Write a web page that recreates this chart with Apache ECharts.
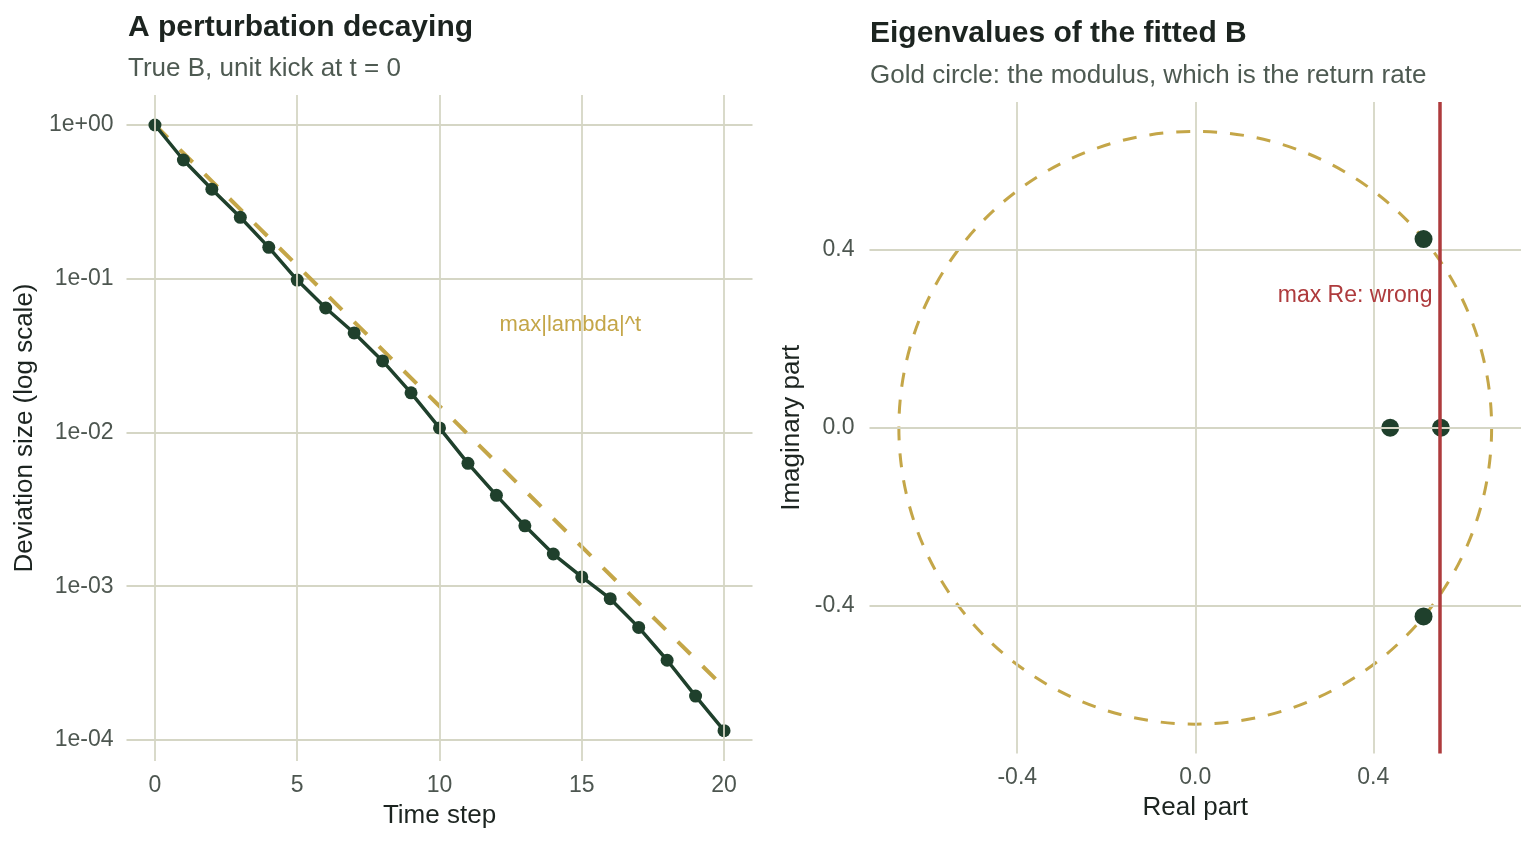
<!DOCTYPE html>
<html>
<head>
<meta charset="utf-8">
<script src="https://cdn.jsdelivr.net/npm/echarts@6/dist/echarts.min.js"></script>
<style>
html,body{margin:0;padding:0;background:#fff;}
#chart{width:1536px;height:844px;}
</style>
</head>
<body>
<div id="chart"></div>
<script>
// ---- Left panel data ----
const timeSteps = [0,1,2,3,4,5,6,7,8,9,10,11,12,13,14,15,16,17,18,19,20];
const deviation = [1, 0.592, 0.382, 0.251, 0.160, 0.098, 0.0645, 0.0444, 0.0292, 0.0181, 0.0107,
                   0.0063, 0.0039, 0.00247, 0.00162, 0.00115, 0.00083, 0.00054, 0.00033, 0.000193, 0.000115];
const envelopeT = [0, 20];
const envelopeV = [1, 0.00022];
const envelopeLabel = {t: 14.6, v: 0.05, text: 'max|lambda|^t'};
const leftXTicks = [0, 5, 10, 15, 20];

// ---- Right panel data ----
const eigRe = [0.513, 0.438, 0.552, 0.513];
const eigIm = [0.424, 0, 0, -0.424];
const modulus = 0.666;
const maxRe = 0.552;
const maxReLabel = {x: 0.533, y: 0.297, text: 'max Re: wrong'};
const rightXTicks = [-0.4, 0.0, 0.4];
const rightYTicks = [-0.4, 0.0, 0.4];

const GREEN = '#1f402c', GOLD = '#c4a648', RED = '#ae3b3d', GRID = '#d5d6c5';
const TICK = '#4d5650', TITLE = '#1c2420', SUB = '#4e5a52';
const FONT = '"Liberation Sans", Arial, Helvetica, sans-serif';

function fmtExp(v) {
  const e = Math.log10(v);
  const r = Math.round(e);
  if (Math.abs(e - r) > 1e-6) return '';
  return '1e' + (r < 0 ? '-' : '+') + String(Math.abs(r)).padStart(2, '0');
}

const chart = echarts.init(document.getElementById('chart'), null, {renderer: 'canvas'});
const option = {
  animation: false,
  backgroundColor: '#ffffff',
  textStyle: {fontFamily: FONT},
  title: [
    {text: 'A perturbation decaying', left: 128, top: 13, padding: 0,
     textStyle: {fontFamily: FONT, fontSize: 30, fontWeight: 'bold', color: TITLE}},
    {text: 'True B, unit kick at t = 0', left: 128, top: 56, padding: 0,
     textStyle: {fontFamily: FONT, fontSize: 26, fontWeight: 'normal', color: SUB}},
    {text: 'Eigenvalues of the fitted B', left: 870, top: 19, padding: 0,
     textStyle: {fontFamily: FONT, fontSize: 30, fontWeight: 'bold', color: TITLE}},
    {text: 'Gold circle: the modulus, which is the return rate', left: 870, top: 63, padding: 0,
     textStyle: {fontFamily: FONT, fontSize: 26, fontWeight: 'normal', color: SUB}}
  ],
  grid: [
    {left: 126.5, top: 95, width: 626, height: 666},
    {left: 869.5, top: 102, width: 651.5, height: 651.5}
  ],
  xAxis: [
    {type: 'value', gridIndex: 0, min: -1, max: 21,
     name: 'Time step', nameLocation: 'middle', nameGap: 42,
     nameTextStyle: {fontFamily: FONT, fontSize: 26, color: TITLE},
     axisLine: {show: false}, axisTick: {show: false},
     axisLabel: {customValues: leftXTicks, fontFamily: FONT, fontSize: 23, color: TICK, margin: 13},
     splitLine: {show: false}},
    {type: 'value', gridIndex: 1, min: -0.732, max: 0.732,
     name: 'Real part', nameLocation: 'middle', nameGap: 39,
     nameTextStyle: {fontFamily: FONT, fontSize: 26, color: TITLE},
     axisLine: {show: false}, axisTick: {show: false},
     axisLabel: {customValues: rightXTicks, fontFamily: FONT, fontSize: 23, color: TICK, margin: 13,
                 formatter: v => v.toFixed(1)},
     splitLine: {show: false}}
  ],
  yAxis: [
    {type: 'log', gridIndex: 0, logBase: 10, min: 7.3e-5, max: 1.567,
     name: 'Deviation size (log scale)', nameLocation: 'middle', nameGap: 89,
     nameTextStyle: {fontFamily: FONT, fontSize: 26, color: TITLE},
     axisLine: {show: false}, axisTick: {show: false},
     axisLabel: {fontFamily: FONT, fontSize: 23, color: TICK, margin: 13, formatter: fmtExp,
                 showMinLabel: false, showMaxLabel: false},
     splitLine: {show: true, showMinLine: false, showMaxLine: false, lineStyle: {color: GRID, width: 1.8}}},
    {type: 'value', gridIndex: 1, min: -0.732, max: 0.732,
     name: 'Imaginary part', nameLocation: 'middle', nameGap: 65,
     nameTextStyle: {fontFamily: FONT, fontSize: 26, color: TITLE},
     axisLine: {show: false}, axisTick: {show: false},
     axisLabel: {customValues: rightYTicks, fontFamily: FONT, fontSize: 23, color: TICK, margin: 15,
                 formatter: v => v.toFixed(1)},
     splitLine: {show: false}}
  ],
  series: [
    // left vertical grid lines
    {type: 'scatter', xAxisIndex: 0, yAxisIndex: 0, data: [], z: 1, silent: true,
     markLine: {silent: true, symbol: 'none', label: {show: false}, animation: false,
       lineStyle: {color: GRID, width: 1.8, type: 'solid'},
       data: leftXTicks.map(v => ({xAxis: v}))}},
    // envelope dashed
    {type: 'line', xAxisIndex: 0, yAxisIndex: 0, z: 2, symbol: 'none', silent: true,
     data: envelopeT.map((t, i) => [t, envelopeV[i]]),
     lineStyle: {color: GOLD, width: 4, type: [18, 17]}},
    // deviation line + points
    {type: 'line', xAxisIndex: 0, yAxisIndex: 0, z: 3, symbol: 'circle', symbolSize: 13,
     data: timeSteps.map((t, i) => [t, deviation[i]]),
     lineStyle: {color: GREEN, width: 3.5}, itemStyle: {color: GREEN}},
    // envelope label
    {type: 'scatter', xAxisIndex: 0, yAxisIndex: 0, z: 4, symbolSize: 0, silent: true,
     data: [[envelopeLabel.t, envelopeLabel.v]], itemStyle: {opacity: 1},
     label: {show: true, position: 'inside', formatter: envelopeLabel.text,
             fontFamily: FONT, fontSize: 22, color: GOLD, align: 'center', verticalAlign: 'middle'}},

    // right grid lines
    {type: 'scatter', xAxisIndex: 1, yAxisIndex: 1, data: [], z: 1, silent: true,
     markLine: {silent: true, symbol: 'none', label: {show: false}, animation: false,
       lineStyle: {color: GRID, width: 1.8, type: 'solid'},
       data: rightXTicks.map(v => ({xAxis: v})).concat(rightYTicks.map(v => ({yAxis: v})))}},
    // modulus circle
    {type: 'custom', xAxisIndex: 1, yAxisIndex: 1, z: 2, silent: true,
     data: [[0, 0, modulus]],
     encode: {x: 0, y: 1},
     renderItem: function (params, api) {
       const c = api.coord([api.value(0), api.value(1)]);
       const r = api.size([api.value(2), 0])[0];
       return {type: 'circle', shape: {cx: c[0], cy: c[1], r: r},
               style: {fill: 'none', stroke: GOLD, lineWidth: 3, lineDash: [14, 13]}};
     }},
    // max Re line
    {type: 'scatter', xAxisIndex: 1, yAxisIndex: 1, data: [], z: 3, silent: true,
     markLine: {silent: true, symbol: 'none', label: {show: false}, animation: false,
       lineStyle: {color: RED, width: 3.5, type: 'solid'},
       data: [{xAxis: maxRe}]}},
    // eigenvalues
    {type: 'scatter', xAxisIndex: 1, yAxisIndex: 1, z: 4, symbol: 'circle', symbolSize: 18,
     data: eigRe.map((x, i) => [x, eigIm[i]]), itemStyle: {color: GREEN, opacity: 1}},
    // max Re label
    {type: 'scatter', xAxisIndex: 1, yAxisIndex: 1, z: 5, symbolSize: 0, silent: true,
     data: [[maxReLabel.x, maxReLabel.y]], itemStyle: {opacity: 1},
     label: {show: true, position: 'inside', formatter: maxReLabel.text,
             fontFamily: FONT, fontSize: 23, color: RED, align: 'right', verticalAlign: 'middle'}}
  ]
};
chart.setOption(option);
</script>
</body>
</html>
